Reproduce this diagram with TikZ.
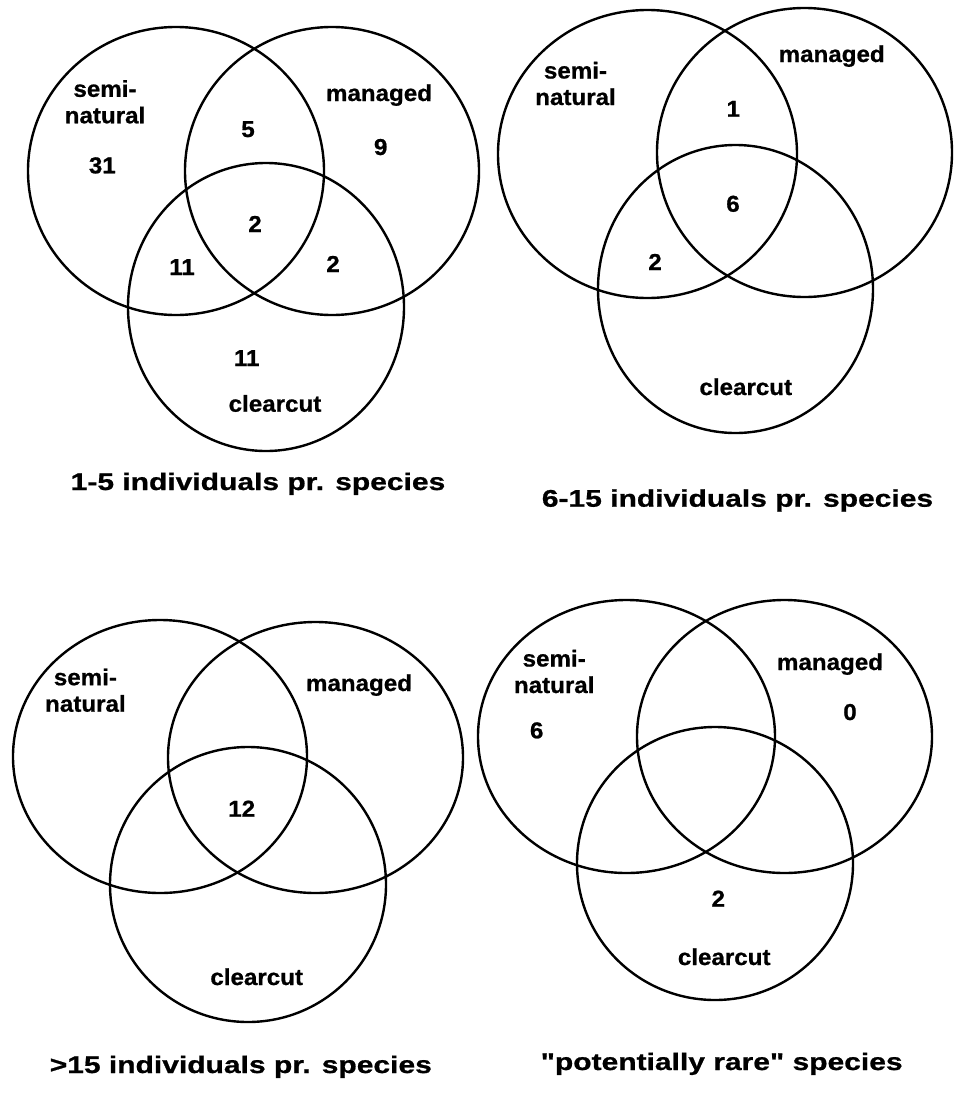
\documentclass[tikz,border=0pt]{standalone}
\usepackage{fontspec}
\newfontfamily\labfont[FakeStretch=1.05, BoldFeatures={FakeBold=0.8}]{Liberation Sans}
\newfontfamily\capfont[FakeStretch=1.25, BoldFeatures={FakeBold=0.8}]{Liberation Sans}
\begin{document}
\begin{tikzpicture}[x=1pt,y=-1pt,
  ring/.style={line width=2.4pt, black},
  lab/.style={font=\labfont\bfseries\fontsize{23}{26.5}\selectfont, anchor=base, inner sep=0pt, align=center},
  captxt/.style={font=\capfont\bfseries\fontsize{24}{28}\selectfont, anchor=base, inner sep=0pt}]
\useasboundingbox (0,0) rectangle (955,1114);
\fill[white] (0,0) rectangle (955,1114);

% ---------- Diagram 1 ----------
\draw[ring] (176,171) ellipse [x radius=148pt, y radius=144pt];
\draw[ring] (332,171) ellipse [x radius=147pt, y radius=144pt];
\draw[ring] (266,307) ellipse [x radius=138pt, y radius=144pt];
\node[lab] (s1) at (105,123.3) {semi-\\natural};
\node[lab] (m1) at (379,101) {managed};
\node[lab] (c1) at (275,411.7) {clearcut};
\node[lab] (n1a) at (102.3,173.3) {31};
\node[lab] (n1b) at (248,137) {5};
\node[lab] (n1c) at (380.7,155) {9};
\node[lab] (n1d) at (255,232) {2};
\node[lab] (n1e) at (182,275) {11};
\node[lab] (n1f) at (333,272) {2};
\node[lab] (n1g) at (246.7,366) {11};
\node[captxt] (t1) at (258,490) {1-5 individuals pr. species};

% ---------- Diagram 2 ----------
\draw[ring] (647.5,154) ellipse [x radius=149.5pt, y radius=144pt];
\draw[ring] (804.5,152.5) ellipse [x radius=147.5pt, y radius=144.5pt];
\draw[ring] (735.5,289) ellipse [x radius=137.5pt, y radius=144pt];
\node[lab] (s2) at (575.5,105) {semi-\\natural};
\node[lab] (m2) at (831.7,62) {managed};
\node[lab] (c2) at (745.8,395) {clearcut};
\node[lab] (n2a) at (733.3,116.7) {1};
\node[lab] (n2b) at (733,211.7) {6};
\node[lab] (n2c) at (655,270) {2};
\node[captxt] (t2) at (737.5,506.7) {6-15 individuals pr. species};

% ---------- Diagram 3 ----------
\draw[ring] (160,756.5) ellipse [x radius=147pt, y radius=136.5pt];
\draw[ring] (315.5,757.5) ellipse [x radius=147.5pt, y radius=135.5pt];
\draw[ring] (248,884.5) ellipse [x radius=138pt, y radius=137.5pt];
\node[lab] (s3) at (85.4,711.7) {semi-\\natural};
\node[lab] (m3) at (359,691) {managed};
\node[lab] (c3) at (256.7,985) {clearcut};
\node[lab] (n3a) at (241.7,816.7) {12};
\node[captxt] (t3) at (240.8,1073) {>15 individuals pr. species};

% ---------- Diagram 4 ----------
\draw[ring] (626.5,736.5) ellipse [x radius=148.5pt, y radius=136.5pt];
\draw[ring] (784.5,736.5) ellipse [x radius=147.5pt, y radius=136.5pt];
\draw[ring] (715,863.5) ellipse [x radius=138pt, y radius=136.5pt];
\node[lab] (s4) at (554.2,693) {semi-\\natural};
\node[lab] (m4) at (830,670) {managed};
\node[lab] (c4) at (724.2,965) {clearcut};
\node[lab] (n4a) at (536.7,738.3) {6};
\node[lab] (n4b) at (850,720) {0};
\node[lab] (n4c) at (718.3,906.7) {2};
\node[captxt] (t4) at (721.7,1070) {"potentially rare" species};
\end{tikzpicture}
\end{document}
